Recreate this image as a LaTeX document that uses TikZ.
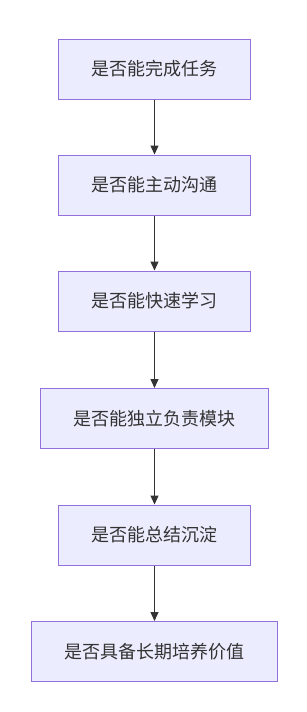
\documentclass[tikz,border=0pt]{standalone}
\usepackage{fontspec}
\setmainfont{Noto Sans CJK SC}
\usepackage{tikz}
\usetikzlibrary{arrows.meta, positioning}
\definecolor{mmfill}{HTML}{ECECFF}
\definecolor{mmstroke}{HTML}{9370DB}
\definecolor{mmline}{HTML}{333333}
\definecolor{mmtext}{HTML}{333333}

\begin{document}
\begin{tikzpicture}[
    x=1pt, y=-1pt,
    stepbox/.style={draw=mmstroke, fill=mmfill, line width=1pt,
                minimum height=60pt, inner xsep=33pt, text=mmtext,
                font=\fontsize{18}{21}\selectfont},
    arr/.style={-{Triangle[length=9pt, width=8pt]}, line width=1.2pt, mmline}
  ]
    \useasboundingbox (0,0) rectangle (306,712);
    % Steps
    \node[stepbox] (task)   at (154.5, 69)    {是否能完成任务};
    \node[stepbox] (talk)   at (154.5, 185)   {是否能主动沟通};
    \node[stepbox] (learn)  at (154.5, 301)   {是否能快速学习};
    \node[stepbox] (module) at (154.5, 418.5) {是否能独立负责模块};
    \node[stepbox] (sum)    at (154.5, 535)   {是否能总结沉淀};
    \node[stepbox] (value)  at (154.5, 651.5) {是否具备长期培养价值};

    \draw[arr] (task) -- (talk);
    \draw[arr] (talk) -- (learn);
    \draw[arr] (learn) -- (module);
    \draw[arr] (module) -- (sum);
    \draw[arr] (sum) -- (value);
\end{tikzpicture}
\end{document}
